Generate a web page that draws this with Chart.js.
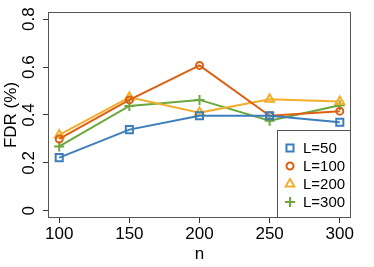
<!DOCTYPE html>
<html>
<head>
<meta charset="utf-8">
<script src="https://cdn.jsdelivr.net/npm/chart.js@4"></script>
<style>
  html, body { margin: 0; padding: 0; background: #fff; }
  #wrap { width: 374px; height: 267px; }
</style>
</head>
<body>
<div id="wrap"><canvas id="c" width="374" height="267"></canvas></div>
<script>
// n values on the x axis
var nValues = [100, 150, 200, 250, 300];
var xTicks = [100, 150, 200, 250, 300];
var yTicks = [0, 0.2, 0.4, 0.6, 0.8];

// FDR, one array per L
var fdrL50  = [0.222, 0.339, 0.397, 0.397, 0.370];
var fdrL100 = [0.300, 0.463, 0.607, 0.397, 0.416];
var fdrL200 = [0.317, 0.474, 0.410, 0.466, 0.456];
var fdrL300 = [0.269, 0.438, 0.463, 0.376, 0.441];

var seriesNames = ['L=50', 'L=100', 'L=200', 'L=300'];

var FONT = 'Liberation Sans, Arial, sans-serif';

function pts(vals) {
  return vals.map(function (v, i) { return { x: nValues[i], y: v }; });
}

function series(label, vals, color, style, radius) {
  return {
    label: label,
    data: pts(vals),
    borderColor: color,
    backgroundColor: color,
    borderWidth: 2,
    pointStyle: style,
    pointRadius: radius,
    pointBorderWidth: 2,
    pointBorderColor: color,
    pointBackgroundColor: 'rgba(255,255,255,0)',
    tension: 0
  };
}

var datasets = [
  series(seriesNames[0], fdrL50,  '#3b7dbd', 'rect', 5),
  series(seriesNames[1], fdrL100, '#dd5f12', 'circle', 3.5),
  series(seriesNames[2], fdrL200, '#f2ae2e', 'triangle', 5),
  series(seriesNames[3], fdrL300, '#6aa83a', 'cross', 5)
];

// box, rotated y labels and the legend, R style
var rFrame = {
  id: 'rFrame',
  afterDraw: function (chart) {
    var ctx = chart.ctx, a = chart.chartArea, ys = chart.scales.y;
    ctx.save();
    ctx.strokeStyle = '#555';
    ctx.lineWidth = 1;
    ctx.strokeRect(a.left + 0.5, a.top + 0.5, a.right - a.left - 1, a.bottom - a.top - 1);

    ctx.fillStyle = '#000';
    ctx.font = '17px ' + FONT;
    ctx.textAlign = 'center';
    ctx.textBaseline = 'middle';
    yTicks.forEach(function (t) {
      ctx.save();
      ctx.translate(29, ys.getPixelForValue(t));
      ctx.rotate(-Math.PI / 2);
      ctx.fillText(t === 0 ? '0' : t.toFixed(1), 0, 0);
      ctx.restore();
    });
    ctx.save();
    ctx.translate(11, (a.top + a.bottom) / 2);
    ctx.rotate(-Math.PI / 2);
    ctx.fillText('FDR (%)', 0, 0);
    ctx.restore();

    // legend in the lower right corner
    var lx = 277, ly = 130;
    ctx.font = '15px ' + FONT;
    ctx.fillStyle = '#fff';
    ctx.fillRect(lx, ly, a.right - lx, a.bottom - ly);
    ctx.strokeStyle = '#555';
    ctx.lineWidth = 1;
    ctx.strokeRect(lx + 0.5, ly + 0.5, a.right - lx - 1, a.bottom - ly - 1);
    chart.data.datasets.forEach(function (d, i) {
      var cy = 148 + i * 18;
      ctx.strokeStyle = d.pointBorderColor;
      ctx.fillStyle = 'rgba(255,255,255,0)';
      ctx.lineWidth = 2;
      Chart.helpers.drawPoint(ctx, { pointStyle: d.pointStyle, radius: d.pointRadius, rotation: 0, borderWidth: 2 }, 290, cy);
      ctx.fillStyle = '#000';
      ctx.textAlign = 'left';
      ctx.fillText(d.label, 303, cy + 1);
    });
    ctx.restore();
  }
};

new Chart(document.getElementById('c'), {
  type: 'line',
  data: { datasets: datasets },
  plugins: [rFrame],
  options: {
    responsive: false,
    animation: false,
    layout: { padding: { top: 12, right: 23, left: 0, bottom: 0 } },
    plugins: { legend: { display: false }, tooltip: { enabled: false } },
    scales: {
      x: {
        type: 'linear',
        min: 92, max: 308,
        afterBuildTicks: function (s) { s.ticks = xTicks.map(function (v) { return { value: v }; }); },
        afterFit: function (s) { s.height = 49; },
        border: { display: false },
        grid: { drawOnChartArea: false, drawTicks: true, tickLength: 5, color: '#333' },
        ticks: { color: '#000', font: { family: FONT, size: 17 }, padding: 1, maxRotation: 0 },
        title: { display: true, text: 'n', color: '#000', font: { family: FONT, size: 17 }, padding: { top: 0, bottom: 2 } }
      },
      y: {
        type: 'linear',
        min: -0.03, max: 0.83,
        afterBuildTicks: function (s) { s.ticks = yTicks.map(function (v) { return { value: v }; }); },
        afterFit: function (s) { s.width = 48; },
        border: { display: false },
        grid: { drawOnChartArea: false, drawTicks: true, tickLength: 5, color: '#333' },
        ticks: { display: false }
      }
    }
  }
});
</script>
</body>
</html>
